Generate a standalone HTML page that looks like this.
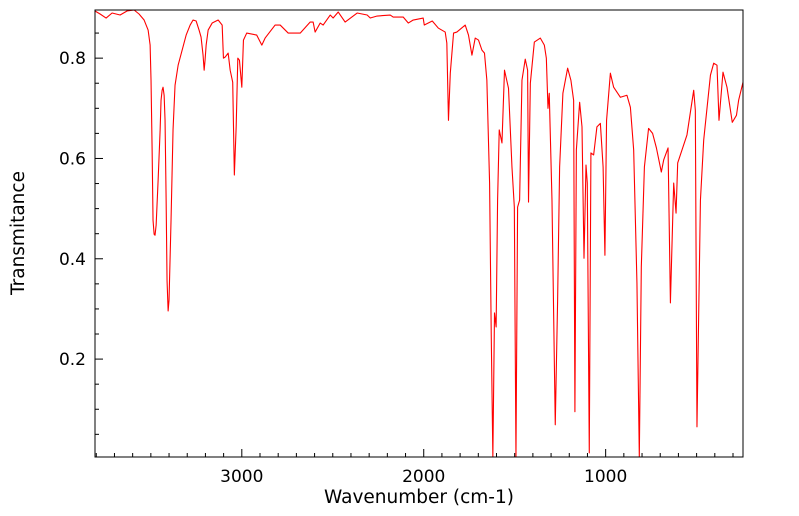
<!DOCTYPE html>
<html><head><meta charset="utf-8">
<style>
html,body{margin:0;padding:0;background:#fff;}
svg{display:block;font-family:"DejaVu Sans","Liberation Sans",sans-serif;}
</style></head>
<body>
<svg id="chart" width="799" height="516" viewBox="0 0 799 516" xmlns="http://www.w3.org/2000/svg">
<g id="axes"></g>
<path id="spectrum" fill="none" stroke="#ff0000" stroke-width="1.1" stroke-linejoin="round"></path>
<rect x="95" y="10" width="648" height="447" fill="none" stroke="#000" stroke-width="1"></rect>
<text x="419" y="503" font-size="18.5" text-anchor="middle">Wavenumber (cm-1)</text>
<text x="0" y="0" font-size="18.5" text-anchor="middle" transform="translate(24,233) rotate(-90)">Transmitance</text>
</svg>
<script>
const wavenumbers=[3807,3779,3746,3713,3669,3631,3592,3565,3537,3515,3504,3499,3493,3488,3482,3477,3471,3460,3449,3444,3438,3433,3427,3422,3416,3411,3405,3400,3389,3378,3367,3350,3328,3306,3284,3268,3251,3235,3224,3213,3207,3202,3196,3185,3163,3130,3108,3101,3092,3075,3064,3050,3041,3031,3022,3013,3000,2991,2973,2918,2890,2872,2817,2789,2745,2679,2624,2608,2597,2569,2553,2514,2498,2470,2432,2366,2311,2294,2256,2184,2168,2113,2085,2058,2003,1997,1953,1920,1882,1873,1864,1854,1836,1818,1772,1754,1735,1717,1699,1680,1666,1653,1638,1629,1620,1611,1602,1594,1585,1570,1556,1534,1515,1502,1493,1484,1473,1460,1442,1429,1424,1414,1392,1359,1337,1326,1317,1310,1295,1277,1264,1253,1235,1209,1191,1176,1169,1161,1143,1130,1119,1108,1101,1090,1081,1066,1048,1029,1014,1004,995,974,956,919,883,864,846,828,815,804,787,764,742,721,694,681,657,644,626,613,604,553,516,507,498,479,461,424,406,388,377,355,333,304,281,269,245];
const transmittance=[0.894,0.888,0.880,0.890,0.886,0.894,0.896,0.888,0.876,0.856,0.826,0.756,0.617,0.477,0.449,0.447,0.467,0.557,0.657,0.716,0.736,0.742,0.726,0.677,0.517,0.357,0.296,0.318,0.477,0.657,0.746,0.786,0.816,0.846,0.866,0.876,0.874,0.856,0.842,0.806,0.776,0.796,0.826,0.856,0.870,0.876,0.866,0.800,0.802,0.810,0.776,0.752,0.567,0.663,0.800,0.796,0.742,0.836,0.850,0.846,0.826,0.840,0.866,0.866,0.850,0.850,0.872,0.872,0.852,0.870,0.866,0.886,0.880,0.892,0.872,0.890,0.886,0.880,0.884,0.886,0.882,0.882,0.870,0.876,0.880,0.866,0.874,0.860,0.852,0.830,0.676,0.770,0.850,0.852,0.866,0.846,0.806,0.840,0.836,0.816,0.810,0.756,0.551,0.252,0.005,0.292,0.264,0.517,0.657,0.631,0.776,0.740,0.583,0.503,0.005,0.503,0.517,0.756,0.798,0.776,0.513,0.750,0.832,0.840,0.826,0.800,0.700,0.730,0.517,0.069,0.318,0.583,0.730,0.780,0.756,0.716,0.095,0.617,0.712,0.663,0.401,0.587,0.551,0.013,0.611,0.607,0.663,0.670,0.583,0.407,0.676,0.770,0.742,0.722,0.726,0.702,0.617,0.352,0.005,0.384,0.583,0.660,0.650,0.621,0.573,0.597,0.621,0.312,0.551,0.491,0.591,0.647,0.736,0.696,0.065,0.517,0.637,0.766,0.790,0.786,0.676,0.772,0.742,0.672,0.686,0.716,0.752];
const xTickValues=[3000,2000,1000];
const xTickLabels=["3000","2000","1000"];
const yTickValues=[0.2,0.4,0.6,0.8];
const yTickLabels=["0.2","0.4","0.6","0.8"];

const PL=95,PR=743,PT=10,PB=457;
const X0=3807,X1=245,Y0=0.0048,Y1=0.896;
function xs(v){return PL+(X0-v)/(X0-X1)*(PR-PL);}
function ys(v){return PB-(v-Y0)/(Y1-Y0)*(PB-PT);}
const NS="http://www.w3.org/2000/svg";
const axes=document.getElementById('axes');
function line(x1,y1,x2,y2,name){
  const l=document.createElementNS(NS,'line');
  l.setAttribute('x1',x1);l.setAttribute('y1',y1);l.setAttribute('x2',x2);l.setAttribute('y2',y2);
  l.setAttribute('stroke','#000');l.setAttribute('stroke-width','1');
  
  
  axes.appendChild(l);
}
for(let w=3800;w>=300;w-=100){
  const x=xs(w);
  const major=w%1000===0;
  line(x,PB,x,PB-(major?8:4),major?'x-major-tick':'x-minor-tick');
}
for(let v=0.05;v<0.9;v+=0.05){
  const y=ys(v);
  const major=Math.abs(v*10-Math.round(v*10))<1e-6 && Math.round(v*10)%2===0;
  line(PL,y,PL+(major?8:4),y,major?'y-major-tick':'y-minor-tick');
}
xTickValues.forEach((v,i)=>{
  const t=document.createElementNS(NS,'text');
  t.setAttribute('x',xs(v));t.setAttribute('y',PB+25);
  t.setAttribute('font-size','17');t.setAttribute('text-anchor','middle');
  t.textContent=xTickLabels[i];
  
  
  axes.appendChild(t);
});
yTickValues.forEach((v,i)=>{
  const t=document.createElementNS(NS,'text');
  t.setAttribute('x',PL-9);t.setAttribute('y',ys(v)+6);
  t.setAttribute('font-size','17');t.setAttribute('text-anchor','end');
  t.textContent=yTickLabels[i];
  
  
  axes.appendChild(t);
});
let d='';
wavenumbers.forEach((w,i)=>{
  d+=(i?'L':'M')+xs(w).toFixed(2)+','+ys(transmittance[i]).toFixed(2);
});
document.getElementById('spectrum').setAttribute('d',d);
</script>
</body></html>
